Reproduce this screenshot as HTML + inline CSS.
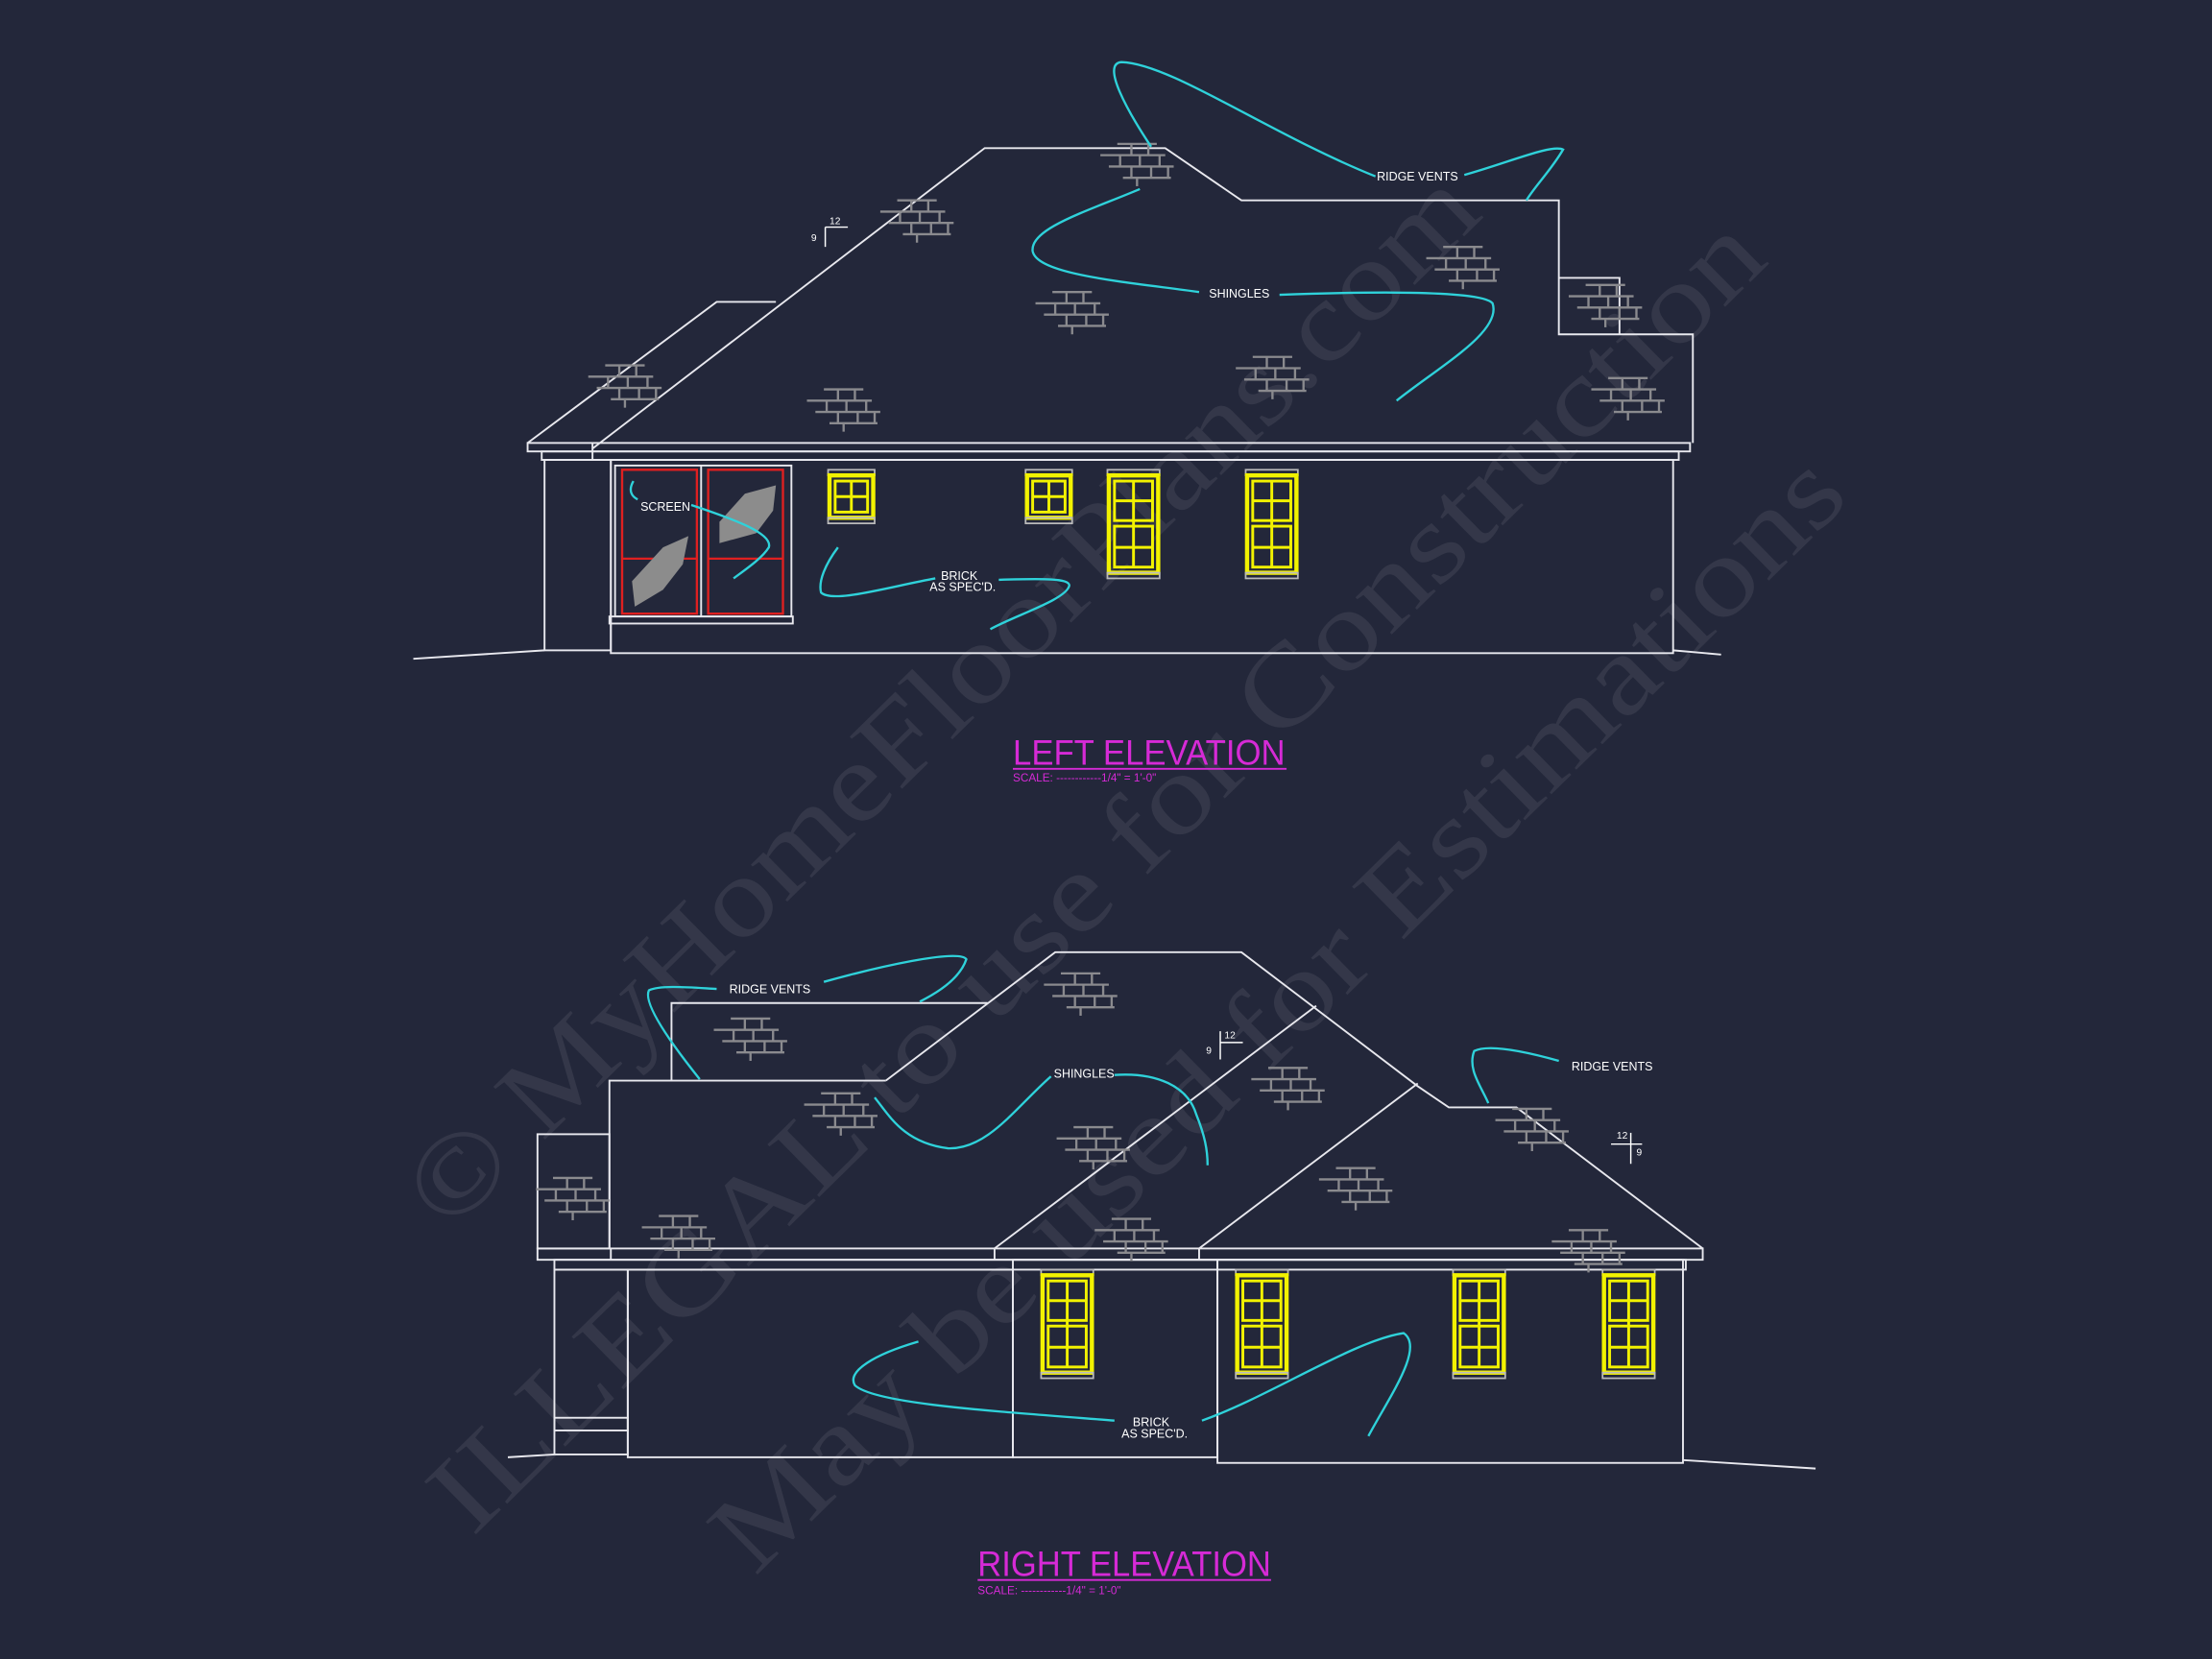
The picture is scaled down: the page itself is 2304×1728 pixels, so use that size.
<!DOCTYPE html>
<html><head><meta charset="utf-8"><style>
html,body{margin:0;padding:0;background:#23273a;}
svg{display:block;}
</style></head><body>
<svg width="2304" height="1728" viewBox="0 0 1568 1176" xmlns="http://www.w3.org/2000/svg">
<defs>
<g id="brk" stroke="#8a8a8e" stroke-width="1.6" fill="none">
<line x1="12" y1="0" x2="40" y2="0"/>
<line x1="0" y1="8" x2="46" y2="8"/>
<line x1="6" y1="16" x2="52" y2="16"/>
<line x1="16" y1="24" x2="50" y2="24"/>
<line x1="22" y1="0" x2="22" y2="8"/><line x1="34" y1="0" x2="34" y2="8"/>
<line x1="14" y1="8" x2="14" y2="16"/><line x1="28" y1="8" x2="28" y2="16"/><line x1="42" y1="8" x2="42" y2="16"/>
<line x1="22" y1="16" x2="22" y2="24"/><line x1="36" y1="16" x2="36" y2="24"/><line x1="48" y1="16" x2="48" y2="24"/>
<line x1="26" y1="24" x2="26" y2="30"/>
</g>
<g id="wt" >
<rect x="0" y="0" width="37" height="4" fill="none" stroke="#bbb" stroke-width="1.2"/>
<rect x="1" y="4" width="35" height="69" fill="none" stroke="#f2f200" stroke-width="3"/>
<rect x="5" y="8" width="27" height="28" fill="none" stroke="#f2f200" stroke-width="2"/>
<rect x="5" y="40" width="27" height="29" fill="none" stroke="#f2f200" stroke-width="2"/>
<line x1="18.5" y1="8" x2="18.5" y2="69" stroke="#f2f200" stroke-width="2"/>
<line x1="5" y1="22" x2="32" y2="22" stroke="#f2f200" stroke-width="2"/>
<line x1="5" y1="55" x2="32" y2="55" stroke="#f2f200" stroke-width="2"/>
<rect x="0" y="73" width="37" height="4" fill="none" stroke="#bbb" stroke-width="1.2"/>
</g>
<g id="ws">
<rect x="0" y="0" width="33" height="4" fill="none" stroke="#bbb" stroke-width="1.2"/>
<rect x="1" y="4" width="31" height="30" fill="none" stroke="#f2f200" stroke-width="3"/>
<rect x="5" y="8" width="23" height="22" fill="none" stroke="#f2f200" stroke-width="2"/>
<line x1="16.5" y1="8" x2="16.5" y2="30" stroke="#f2f200" stroke-width="2"/>
<line x1="5" y1="19" x2="28" y2="19" stroke="#f2f200" stroke-width="2"/>
<rect x="0" y="34" width="33" height="4" fill="none" stroke="#bbb" stroke-width="1.2"/>
</g>
</defs>
<rect width="1568" height="1176" fill="#23273a"/>

<!-- watermark -->
<g font-family="Liberation Serif, serif" fill="#ffffff" fill-opacity="0.08" font-size="80">
<text transform="translate(318,875) rotate(-44.5)" textLength="1030" lengthAdjust="spacingAndGlyphs">© MyHomeFloorPlans.com</text>
<text transform="translate(335,1090) rotate(-44.5)" textLength="1290" lengthAdjust="spacingAndGlyphs">ILLEGAL to use for Construction</text>
<text transform="translate(535,1118) rotate(-44.5)" textLength="1090" lengthAdjust="spacingAndGlyphs">May be used for Estimations</text>
</g>

<!-- TOP ELEVATION -->
<g stroke="#e8e8ee" stroke-width="1.3" fill="none">
<polyline points="374,314 508,214 550,214"/>
<polyline points="420,318 698,105 826,105 880,142 1105,142 1105,237 1200,237 1200,314"/>
<polyline points="1105,197 1148,197 1148,237"/>
<rect x="374" y="314" width="824" height="6"/>
<rect x="384" y="320" width="806" height="6"/>
<line x1="420" y1="314" x2="420" y2="326"/>
<rect x="386" y="326" width="47" height="135"/>
<rect x="433" y="326" width="753" height="137"/>
<rect x="436" y="330" width="125" height="107"/>
<rect x="432" y="437" width="130" height="5"/>
<line x1="497" y1="330" x2="497" y2="437"/>
<line x1="293" y1="467" x2="386" y2="461"/>
<line x1="1186" y1="461" x2="1220" y2="464"/>
</g>
<g stroke="#e02020" stroke-width="1.6" fill="none">
<rect x="441" y="333" width="53" height="102"/>
<line x1="441" y1="396" x2="494" y2="396"/>
<rect x="502" y="333" width="53" height="102"/>
<line x1="502" y1="396" x2="555" y2="396"/>
</g>
<path d="M450,430 L448,412 L470,388 L488,380 L484,400 L470,418 Z" fill="#8c8c8c"/>
<path d="M510,385 L510,370 L528,350 L550,344 L548,362 L536,378 Z" fill="#8c8c8c"/>
<use href="#ws" x="587" y="333"/>
<use href="#ws" x="727" y="333"/>
<use href="#wt" x="785" y="333"/>
<use href="#wt" x="883" y="333"/>

<use href="#brk" x="780" y="102"/>
<use href="#brk" x="624" y="142"/>
<use href="#brk" x="417" y="259"/>
<use href="#brk" x="734" y="207"/>
<use href="#brk" x="572" y="276"/>
<use href="#brk" x="876" y="253"/>
<use href="#brk" x="1011" y="175"/>
<use href="#brk" x="1112" y="202"/>
<use href="#brk" x="1128" y="268"/>

<g stroke="#2fd2da" stroke-width="1.6" fill="none">
<path d="M816,104 C800,80 780,45 795,44 C830,45 900,95 975,125"/>
<path d="M1038,124 C1070,115 1100,102 1108,106 C1100,120 1088,132 1082,142"/>
<path d="M808,134 C770,150 730,162 732,178 C735,195 800,200 850,207"/>
<path d="M907,209 C960,207 1050,205 1058,215 C1065,235 1020,260 990,284"/>
<path d="M449,341 C445,348 448,352 452,354"/>
<path d="M490,358 C520,368 548,378 545,388 C540,396 528,404 520,410"/>
<path d="M594,388 C585,400 580,412 582,420 C590,428 630,416 663,410"/>
<path d="M708,411 C740,410 758,410 758,415 C756,425 720,436 702,446"/>
</g>
<g font-family="Liberation Sans, sans-serif" font-size="8.5" fill="#ffffff">
<text x="976" y="128">RIDGE VENTS</text>
<text x="857" y="211">SHINGLES</text>
<text x="454" y="362">SCREEN</text>
<text x="667" y="411">BRICK</text>
<text x="659" y="419">AS SPEC'D.</text>
</g>
<g stroke="#fff" stroke-width="1" fill="none"><line x1="585" y1="161" x2="601" y2="161"/><line x1="585" y1="161" x2="585" y2="175"/></g>
<text x="588" y="159" font-family="Liberation Sans, sans-serif" font-size="7" fill="#fff">12</text>
<text x="575" y="171" font-family="Liberation Sans, sans-serif" font-size="7" fill="#fff">9</text>

<g font-family="Liberation Sans, sans-serif" fill="#d62ad6">
<text x="718" y="542" font-size="25" textLength="193" lengthAdjust="spacingAndGlyphs">LEFT ELEVATION</text>
<text x="718" y="554" font-size="8">SCALE: ------------1/4" = 1'-0"</text>
</g>
<line x1="718" y1="545" x2="912" y2="545" stroke="#d62ad6" stroke-width="1.3"/>

<!-- BOTTOM ELEVATION -->
<g stroke="#e8e8ee" stroke-width="1.3" fill="none">
<polyline points="432,885 432,766 628,766"/>
<polyline points="476,766 476,711 700,711"/>
<polyline points="628,766 748,675 880,675 1005,770 1027,785 1075,785 1207,885"/>
<line x1="705" y1="885" x2="933" y2="713"/>
<line x1="850" y1="885" x2="1005" y2="768"/>
<rect x="381" y="804" width="51" height="81"/>
<rect x="381" y="885" width="826" height="8"/>
<rect x="393" y="893" width="802" height="7"/>
<line x1="433" y1="885" x2="433" y2="893"/>
<line x1="705" y1="885" x2="705" y2="893"/>
<line x1="850" y1="885" x2="850" y2="893"/>
<rect x="393" y="900" width="52" height="131"/>
<rect x="393" y="1005" width="52" height="9"/>
<rect x="445" y="900" width="273" height="133"/>
<rect x="718" y="893" width="145" height="140"/>
<rect x="863" y="893" width="330" height="144"/>
<line x1="360" y1="1033" x2="393" y2="1031"/>
<line x1="1193" y1="1035" x2="1287" y2="1041"/>
</g>
<use href="#wt" x="738" y="900"/>
<use href="#wt" x="876" y="900"/>
<use href="#wt" x="1030" y="900"/>
<use href="#wt" x="1136" y="900"/>

<use href="#brk" x="740" y="690"/>
<use href="#brk" x="506" y="722"/>
<use href="#brk" x="570" y="775"/>
<use href="#brk" x="749" y="799"/>
<use href="#brk" x="887" y="757"/>
<use href="#brk" x="935" y="828"/>
<use href="#brk" x="1060" y="786"/>
<use href="#brk" x="380" y="835"/>
<use href="#brk" x="455" y="862"/>
<use href="#brk" x="776" y="864"/>
<use href="#brk" x="1100" y="872"/>

<g stroke="#2fd2da" stroke-width="1.6" fill="none">
<path d="M496,765 C480,745 455,712 460,702 C468,698 490,700 508,701"/>
<path d="M584,696 C620,686 680,672 685,680 C680,695 662,705 652,710"/>
<path d="M745,763 C720,785 700,815 672,814 C640,810 630,790 620,778"/>
<path d="M790,762 C820,760 842,770 848,790 C854,805 856,815 856,826"/>
<path d="M1105,752 C1080,745 1055,740 1045,745 C1040,758 1050,770 1055,782"/>
<path d="M651,951 C620,960 600,972 606,982 C620,995 700,1000 790,1007"/>
<path d="M852,1007 C900,990 960,950 995,945 C1010,955 985,990 970,1018"/>
</g>
<g font-family="Liberation Sans, sans-serif" font-size="8.5" fill="#ffffff">
<text x="517" y="704">RIDGE VENTS</text>
<text x="747" y="764">SHINGLES</text>
<text x="1114" y="759">RIDGE VENTS</text>
<text x="803" y="1011">BRICK</text>
<text x="795" y="1019">AS SPEC'D.</text>
</g>
<g stroke="#fff" stroke-width="1" fill="none"><line x1="865" y1="739" x2="881" y2="739"/><line x1="865" y1="731" x2="865" y2="751"/>
<line x1="1142" y1="811" x2="1164" y2="811"/><line x1="1156" y1="803" x2="1156" y2="825"/></g>
<g font-family="Liberation Sans, sans-serif" font-size="7" fill="#fff">
<text x="868" y="736">12</text><text x="855" y="747">9</text>
<text x="1146" y="807">12</text><text x="1160" y="819">9</text>
</g>

<g font-family="Liberation Sans, sans-serif" fill="#d62ad6">
<text x="693" y="1117" font-size="25" textLength="208" lengthAdjust="spacingAndGlyphs">RIGHT ELEVATION</text>
<text x="693" y="1130" font-size="8">SCALE: ------------1/4" = 1'-0"</text>
</g>
<line x1="693" y1="1120" x2="901" y2="1120" stroke="#d62ad6" stroke-width="1.3"/>
</svg>
</body></html>
